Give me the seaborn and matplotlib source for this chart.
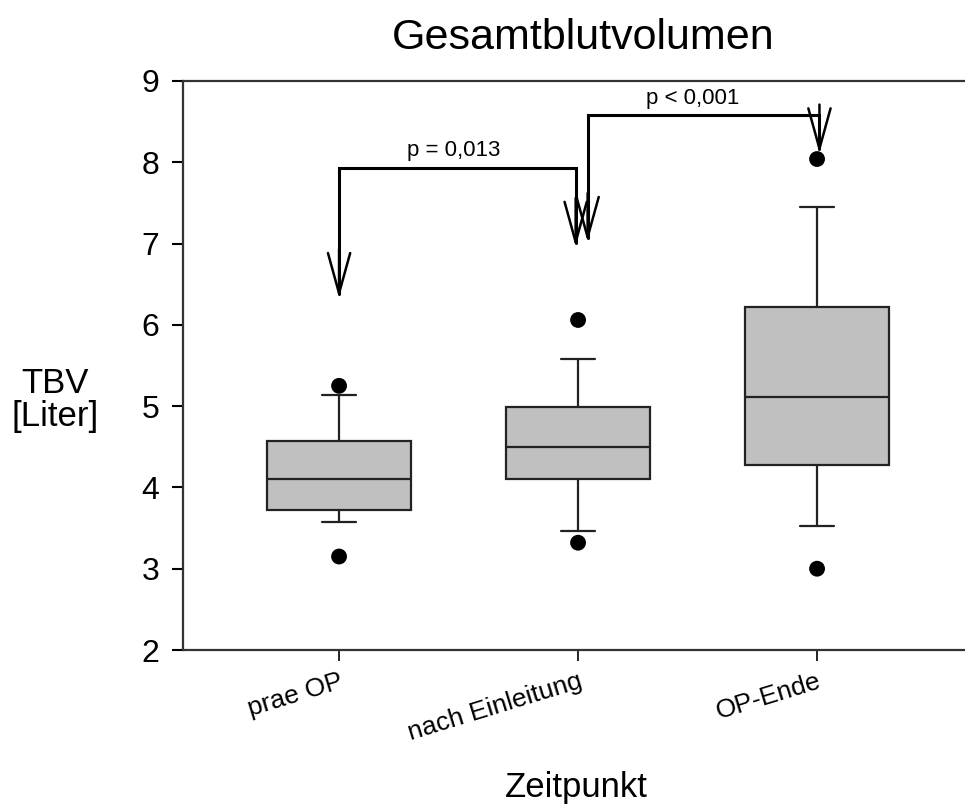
import matplotlib
matplotlib.use("Agg")
import matplotlib.pyplot as plt
import seaborn as sns
import pandas as pd

# ---- data ----
categories = ["prae OP", "nach Einleitung", "OP-Ende"]
q1 = [3.72, 4.10, 4.27]
median = [4.10, 4.50, 5.11]
q3 = [4.57, 4.99, 6.22]
whisker_low = [3.57, 3.46, 3.53]
whisker_high = [5.14, 5.58, 7.45]
outlier_low = [3.15, 3.32, 3.00]
outlier_high = [5.25, 6.06, 8.04]
p_labels = ["p = 0,013", "p < 0,001"]
y_ticks = [2, 3, 4, 5, 6, 7, 8, 9]

sns.set_theme(style="ticks")
plt.rcParams["font.family"] = ["Liberation Sans", "DejaVu Sans"]

W, H = 965, 805
fig = plt.figure(figsize=(W / 100, H / 100), dpi=100)
ax = fig.add_axes([183 / W, 155 / H, 790 / W, 569 / H])

line_c = "#222222"
stats = []
for i, c in enumerate(categories):
    stats.append(dict(label=c, q1=q1[i], med=median[i], q3=q3[i],
                      whislo=whisker_low[i], whishi=whisker_high[i], fliers=[]))
positions = list(range(len(categories)))
ax.bxp(stats, positions=positions, widths=0.6, capwidths=0.14,
       patch_artist=True, showfliers=False,
       boxprops=dict(facecolor="#C0C0C0", edgecolor=line_c, linewidth=1.6),
       medianprops=dict(color=line_c, linewidth=1.6),
       whiskerprops=dict(color=line_c, linewidth=1.6),
       capprops=dict(color=line_c, linewidth=1.6))

out_df = pd.DataFrame({
    "pos": positions + positions,
    "value": outlier_low + outlier_high,
})
sns.scatterplot(data=out_df, x="pos", y="value", s=130, color="black",
                edgecolor="none", ax=ax, zorder=5)

ax.set_xlim(-0.653, -0.653 + 790 / 239)
ax.set_ylim(2, 9)
ax.set_yticks(y_ticks)
ax.set_yticklabels([str(t) for t in y_ticks], fontsize=23)
ax.set_xticks(positions)
ax.set_xticklabels(categories, fontsize=19, rotation=17, ha="right",
                   rotation_mode="anchor", va="top")
ax.set_xlabel("")
ax.set_ylabel("")
ax.tick_params(axis="y", length=8, width=1.5, pad=9, colors="black")
ax.tick_params(axis="x", length=8, width=1.2, pad=6, colors="black")
for s in ax.spines.values():
    s.set_linewidth(1.6)
    s.set_color("#333333")
    s.set_visible(True)

# ---- significance brackets ----
br_lw = 2.2
def bracket(x0, tip0, top, x1, tip1, label, label_x):
    ax.plot([x0, x0, x1, x1], [tip0 + 0.05, top, top, tip1 + 0.05],
            color="black", lw=br_lw, solid_joinstyle="miter", zorder=6)
    for x, tip in ((x0, tip0), (x1, tip1)):
        ax.annotate("", xy=(x, tip), xytext=(x, tip + 0.6),
                    arrowprops=dict(arrowstyle="->,head_length=2.9,head_width=0.8",
                                    color="black", lw=1.8, mutation_scale=10,
                                    shrinkA=0, shrinkB=0),
                    zorder=6)
    ax.text(label_x, top + 0.08, label, ha="center", va="bottom",
            fontsize=16, color="black")

bracket(0.0, 6.33, 7.93, 0.99, 6.96, p_labels[0], 0.48)
bracket(1.04, 7.02, 8.58, 2.01, 8.11, p_labels[1], 1.48)

# ---- titles ----
fig.text(583 / W, 1 - 38 / H, "Gesamtblutvolumen", ha="center", va="center",
         fontsize=31, color="black")
fig.text(55 / W, 1 - 400 / H, "TBV\n[Liter]", ha="center", va="center",
         fontsize=25, color="black", linespacing=1.0, multialignment="center")
fig.text(576 / W, 1 - 797 / H, "Zeitpunkt", ha="center", va="baseline",
         fontsize=25, color="black")

fig.savefig("out.png", dpi=100)
